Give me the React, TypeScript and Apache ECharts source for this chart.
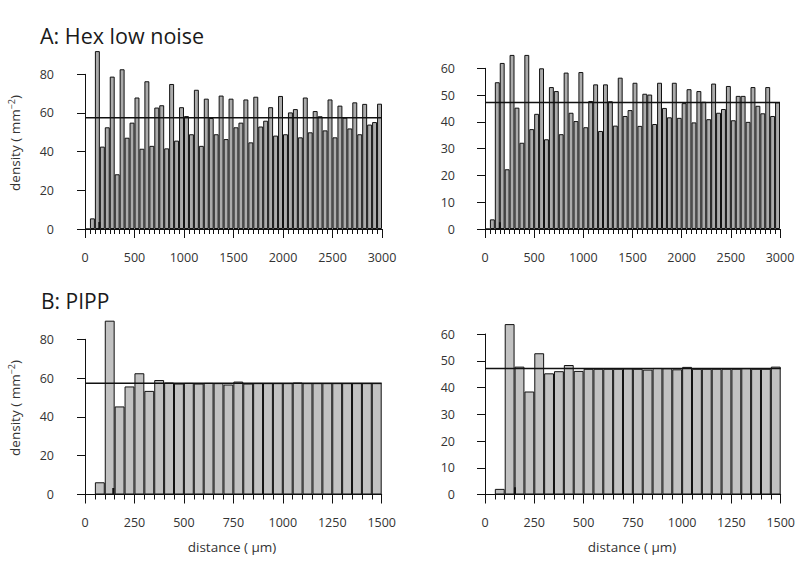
import React, { useEffect, useRef } from "react";
import * as echarts from "echarts";

// Hex low noise, left panel (bins of 50 µm, 0–3000)
const hexLeft = [
  0, 5.5, 92, 42.6, 52.6, 78.8, 28.3, 82.6, 47.2, 55,
  68, 41.5, 76.4, 43, 62.8, 64, 41.7, 75, 45.7, 63,
  58.4, 49, 72, 43, 67.4, 57.4, 49, 69, 46.5, 67.4,
  52.6, 55, 67, 44.8, 68.4, 53, 56, 63, 48.3, 68.8,
  49, 60.3, 62, 47.4, 68, 50, 61, 58.3, 51, 67,
  47.4, 63.8, 57.6, 52, 65.5, 49, 64.7, 54, 55.3, 64.8,
];
// Hex low noise, right panel
const hexRight = [
  0, 3.6, 54.8, 62, 22.3, 65, 45.3, 32.2, 65, 37.3,
  43, 60, 33.5, 53, 51.5, 35.4, 58.4, 43.4, 40.3, 58.6,
  38, 47.8, 54, 36.6, 54, 47.7, 38.6, 56.5, 42.2, 44.4,
  54.6, 38.5, 50.5, 50.2, 39.2, 54.6, 45.2, 41.7, 54.6, 41.5,
  47, 52.2, 39.8, 51.5, 47.5, 41, 54.3, 43.4, 44.8, 53.4,
  40.6, 49.7, 49.7, 40, 53, 46, 43.2, 53, 42.2, 47.3,
];
// PIPP, left panel (bins of 50 µm, 0–1500)
const pippLeft = [
  0, 6.3, 89.6, 45.4, 55.7, 62.5, 53.4, 59, 57.7, 57.2,
  57.5, 57.2, 57.5, 57.4, 56.7, 58.2, 57.2, 57.4, 57.4, 57.4,
  57.4, 57.7, 57.4, 57.4, 57.4, 57.4, 57.4, 57.4, 57.4, 57.4,
];
// PIPP, right panel
const pippRight = [
  0, 2.1, 63.7, 47.8, 38.5, 52.8, 45.3, 46.1, 48.4, 46.2,
  47, 47, 47, 47, 47.1, 47, 46.7, 47.3, 47.2, 46.8,
  47.7, 47, 47, 47, 47, 47, 47.2, 47, 47, 47.8,
];

const meanLevels = [57.5, 47.2, 57.4, 47.1];
const markerX = [145, 152, 143, 152];
const markerH = [3.6, 2.5, 3.4, 2.7];
const xMaxes = [3000, 3000, 1500, 1500];
const xIntervals = [500, 500, 250, 250];
const xMinorSplits = [10, 10, 5, 5];
const yMaxes = [80, 60, 80, 60];
const yIntervals = [20, 10, 20, 10];
const binWidth = 50;

const FONT = "'Open Sans', 'Noto Sans', sans-serif";

export default function App() {
  const ref = useRef<HTMLDivElement>(null);

  useEffect(() => {
    if (!ref.current) return;
    const chart = echarts.init(ref.current, null, { renderer: "svg" });

    const datasets = [hexLeft, hexRight, pippLeft, pippRight];
    const grids = [
      { left: 85, right: 418, top: 74.3, bottom: 339 },
      { left: 485, right: 20, top: 68.3, bottom: 339 },
      { left: 85, right: 418.3, top: 339.3, bottom: 73.5 },
      { left: 485, right: 19.3, top: 334, bottom: 73.5 },
    ];
    const yOffsets = [13, 12, 13, 12];
    const xMargins = [22, 22, 21, 21];
    const barFills = ["#ababab", "#ababab", "#c2c2c2", "#c2c2c2"];

    const xAxis: any[] = [];
    const yAxis: any[] = [];
    const series: any[] = [];

    datasets.forEach((vals, p) => {
      xAxis.push({
        type: "category",
        gridIndex: p,
        data: vals.map((_, i) => String(i * binWidth)),
        show: false,
        boundaryGap: true,
      });
      xAxis.push({
        type: "value",
        gridIndex: p,
        min: 0,
        max: xMaxes[p],
        interval: xIntervals[p],
        position: "bottom",
        axisLine: { show: true, lineStyle: { color: "#111", width: 1 } },
        axisTick: { show: true, length: 9, lineStyle: { color: "#111", width: 1 } },
        minorTick: { show: true, splitNumber: xMinorSplits[p], length: 5, lineStyle: { color: "#111", width: 1 } },
        axisLabel: {
          color: "#333",
          fontSize: 12.5,
          fontFamily: FONT,
          margin: xMargins[p],
          formatter: (v: number) => String(v),
        },
        splitLine: { show: false },
        minorSplitLine: { show: false },
      });
      yAxis.push({
        type: "value",
        gridIndex: p,
        min: 0,
        max: yMaxes[p],
        interval: yIntervals[p],
        offset: yOffsets[p],
        axisLine: { show: true, lineStyle: { color: "#111", width: 1 } },
        axisTick: { show: true, length: 8, lineStyle: { color: "#111", width: 1 } },
        axisLabel: { color: "#333", fontSize: 12.5, fontFamily: FONT, margin: 18 },
        splitLine: { show: false },
      });
      series.push({
        type: "bar",
        xAxisIndex: p * 2,
        yAxisIndex: p,
        data: vals,
        barCategoryGap: "0%",
        clip: false,
        itemStyle: { color: barFills[p], borderColor: "#111", borderWidth: 1 },
        z: 2,
      });
      series.push({
        type: "line",
        xAxisIndex: p * 2 + 1,
        yAxisIndex: p,
        data: [
          [0, meanLevels[p]],
          [xMaxes[p], meanLevels[p]],
        ],
        showSymbol: false,
        symbol: "none",
        lineStyle: { color: "#111", width: 1.5 },
        z: 5,
      });
      series.push({
        type: "line",
        xAxisIndex: p * 2 + 1,
        yAxisIndex: p,
        data: [
          [markerX[p], 0],
          [markerX[p], markerH[p]],
        ],
        showSymbol: false,
        symbol: "none",
        lineStyle: { color: "#111", width: 2 },
        z: 5,
      });
    });

    const densityRich = {
      a: { fontSize: 13.5, fontFamily: FONT, fill: "#333" },
      b: { fontSize: 9, fontFamily: FONT, fill: "#333", verticalAlign: "top", padding: [0, 0, 8, 0] },
    };

    chart.setOption({
      animation: false,
      grid: grids.map((g) => ({ ...g, containLabel: false })),
      xAxis,
      yAxis,
      series,
      graphic: [
        {
          type: "text",
          x: 40,
          y: 35,
          style: { text: "A: Hex low noise", fontSize: 21.5, fontFamily: FONT, fill: "#1a1a1a", verticalAlign: "middle", align: "left" },
        },
        {
          type: "text",
          x: 41,
          y: 301,
          style: { text: "B: PIPP", fontSize: 21, fontFamily: FONT, fill: "#1a1a1a", verticalAlign: "middle", align: "left" },
        },
        {
          type: "text",
          x: 15,
          y: 143,
          rotation: Math.PI / 2,
          style: { text: "{a|density ( mm}{b|−2}{a|)}", rich: densityRich, align: "center", verticalAlign: "middle" },
        },
        {
          type: "text",
          x: 15,
          y: 408,
          rotation: Math.PI / 2,
          style: { text: "{a|density ( mm}{b|−2}{a|)}", rich: densityRich, align: "center", verticalAlign: "middle" },
        },
        {
          type: "text",
          x: 232,
          y: 547,
          style: { text: "distance ( µm)", fontSize: 13.5, fontFamily: FONT, fill: "#333", align: "center", verticalAlign: "middle" },
        },
        {
          type: "text",
          x: 632,
          y: 547,
          style: { text: "distance ( µm)", fontSize: 13.5, fontFamily: FONT, fill: "#333", align: "center", verticalAlign: "middle" },
        },
      ],
    });

    return () => chart.dispose();
  }, []);

  return <div ref={ref} style={{ position: "absolute", left: 0, top: 0, width: 800, height: 568 }} />;
}
